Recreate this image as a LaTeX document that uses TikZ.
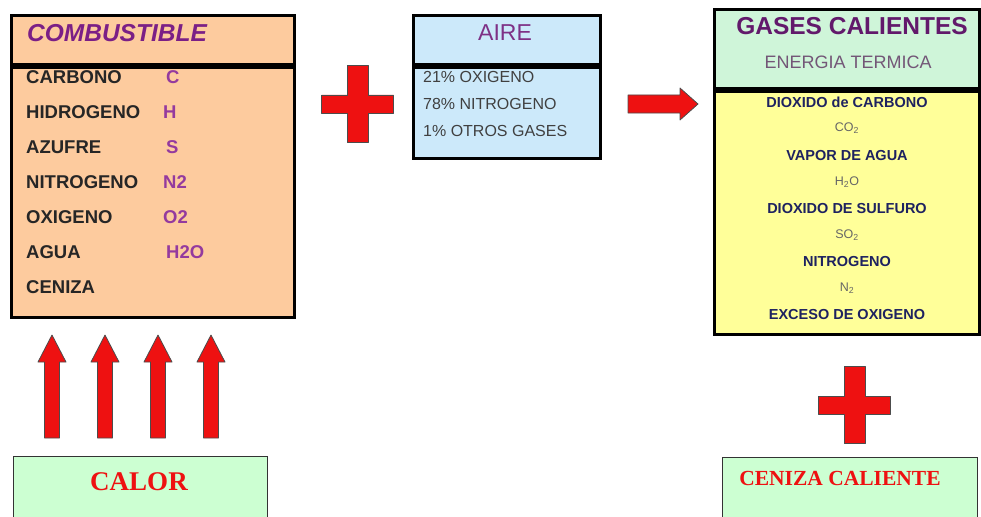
\documentclass[tikz,border=0pt]{standalone}
\usepackage{fontspec}
\setmainfont{Liberation Sans}
\newfontfamily\romanfont{Liberation Serif}
\usetikzlibrary{positioning}

\definecolor{peach}{HTML}{FDCB9E}
\definecolor{skyfill}{HTML}{CCE9FA}
\definecolor{mintfill}{HTML}{CFF5D9}
\definecolor{lemon}{HTML}{FFFF99}
\definecolor{paleg}{HTML}{CCFFD2}
\definecolor{plum}{HTML}{7B1F86}
\definecolor{orchid}{HTML}{943A9E}
\definecolor{navyink}{HTML}{1E2260}
\definecolor{fireball}{HTML}{EE1111}

\tikzset{
  panel/.style={draw=black, line width=3pt, inner sep=0pt, anchor=north west},
  basebox/.style={draw=black!80, line width=1pt, inner sep=0pt, anchor=north west, fill=paleg},
  combtext/.style={font=\bfseries\fontsize{18.5}{19}\selectfont, text=black!85, anchor=west, inner sep=0pt},
  symtext/.style={font=\bfseries\fontsize{18.5}{19}\selectfont, text=orchid, anchor=west, inner sep=0pt},
  airtext/.style={font=\fontsize{16}{17}\selectfont, text=black!75, anchor=west, inner sep=0pt},
  gasname/.style={font=\bfseries\fontsize{14.5}{15}\selectfont, text=navyink, inner sep=0pt},
  gasform/.style={font=\fontsize{12.5}{13}\selectfont, text=black!60, inner sep=0pt},
  hotred/.style={font=\romanfont\bfseries, text=fireball, inner sep=0pt},
  redshape/.style={fill=fireball, draw=black!70, line width=0.8pt, line join=round}
}

\newcommand{\redplus}[2]{%
  \draw[redshape] (#1-10.5,#2-38.5) -- (#1+10.5,#2-38.5) -- (#1+10.5,#2-9)
    -- (#1+36,#2-9) -- (#1+36,#2+9) -- (#1+10.5,#2+9) -- (#1+10.5,#2+38.5)
    -- (#1-10.5,#2+38.5) -- (#1-10.5,#2+9) -- (#1-36,#2+9) -- (#1-36,#2-9)
    -- (#1-10.5,#2-9) -- cycle;}

\begin{document}
\begin{tikzpicture}[x=1pt,y=-1pt]
  \useasboundingbox (0,0) rectangle (981,516);

  % combustible
  \node[panel, fill=peach, minimum width=283, minimum height=49] (combhead) at (10,14) {};
  \node[panel, fill=peach, minimum width=283, minimum height=250, below=0pt of combhead] (combbody) {};
  \node[font=\bfseries\itshape\fontsize{24.5}{25}\selectfont, text=plum, anchor=west, inner sep=0pt] (combtitle) at (27,33) {COMBUSTIBLE};
  \foreach \name/\sym/\sx [count=\i] in {CARBONO/C/166, HIDROGENO/H/163, AZUFRE/S/166,
      NITROGENO/N2/163, OXIGENO/O2/163, AGUA/H2O/166, CENIZA//166} {
    \node[combtext] (row\i) at (26,{77+35*(\i-1)}) {\name};
    \node[symtext] (sym\i) at (\sx,{77+35*(\i-1)}) {\sym};
  }

  \redplus{357.5}{104}

  % aire
  \node[panel, fill=skyfill, minimum width=187, minimum height=49] (airehead) at (412,14) {};
  \node[panel, fill=skyfill, minimum width=187, minimum height=91, below=0pt of airehead] (airebody) {};
  \node[font=\fontsize{23}{23}\selectfont, text=orchid!85!black, inner sep=0pt] (airetitle) at (505,33) {AIRE};
  \node[airtext] (oxi) at (423,77) {21\% OXIGENO};
  \node[airtext] (nitro) at (423,104) {78\% NITROGENO};
  \node[airtext] (otros) at (423,131) {1\% OTROS GASES};

  \draw[redshape] (628,95) -- (680,95) -- (680,88) -- (698,104) -- (680,120)
    -- (680,113) -- (628,113) -- cycle;

  % gases calientes
  \node[panel, fill=mintfill, minimum width=265, minimum height=79] (gashead) at (713,8) {};
  \node[panel, fill=lemon, minimum width=265, minimum height=243, below=0pt of gashead] (gasbody) {};
  \node[font=\bfseries\fontsize{24.5}{25}\selectfont, text=plum!80!black, inner sep=0pt] (gastitle) at (852,26) {GASES CALIENTES};
  \node[font=\fontsize{18}{18}\selectfont, text=plum!45!black!70, inner sep=0pt] (energia) at (848,62) {ENERGIA TERMICA};
  \foreach \txt/\sty [count=\i] in {{DIOXIDO de CARBONO}/gasname, {CO\textsubscript{2}}/gasform,
      {VAPOR DE AGUA}/gasname, {H\textsubscript{2}O}/gasform, {DIOXIDO DE SULFURO}/gasname,
      {SO\textsubscript{2}}/gasform, {NITROGENO}/gasname, {N\textsubscript{2}}/gasform,
      {EXCESO DE OXIGENO}/gasname} {
    \node[\sty] (gas\i) at (847,{102+26.6*(\i-1)}) {\txt};
  }

  % calor
  \foreach \x in {52,105,158,211}
    \draw[redshape] (\x-7.5,438) -- (\x-7.5,362) -- (\x-14,362) -- (\x,335)
      -- (\x+14,362) -- (\x+7.5,362) -- (\x+7.5,438) -- cycle;
  \node[basebox, minimum width=254, minimum height=70] (calor) at (13,456) {};
  \node[hotred, font=\romanfont\bfseries\fontsize{27}{27}\selectfont] (calortext) at (139,482) {CALOR};

  \redplus{854.5}{405}

  \node[basebox, minimum width=255, minimum height=70] (ceniza) at (722,457) {};
  \node[hotred, font=\romanfont\bfseries\fontsize{21.5}{22}\selectfont] (cenizatext) at (840,478) {CENIZA CALIENTE};
\end{tikzpicture}
\end{document}
